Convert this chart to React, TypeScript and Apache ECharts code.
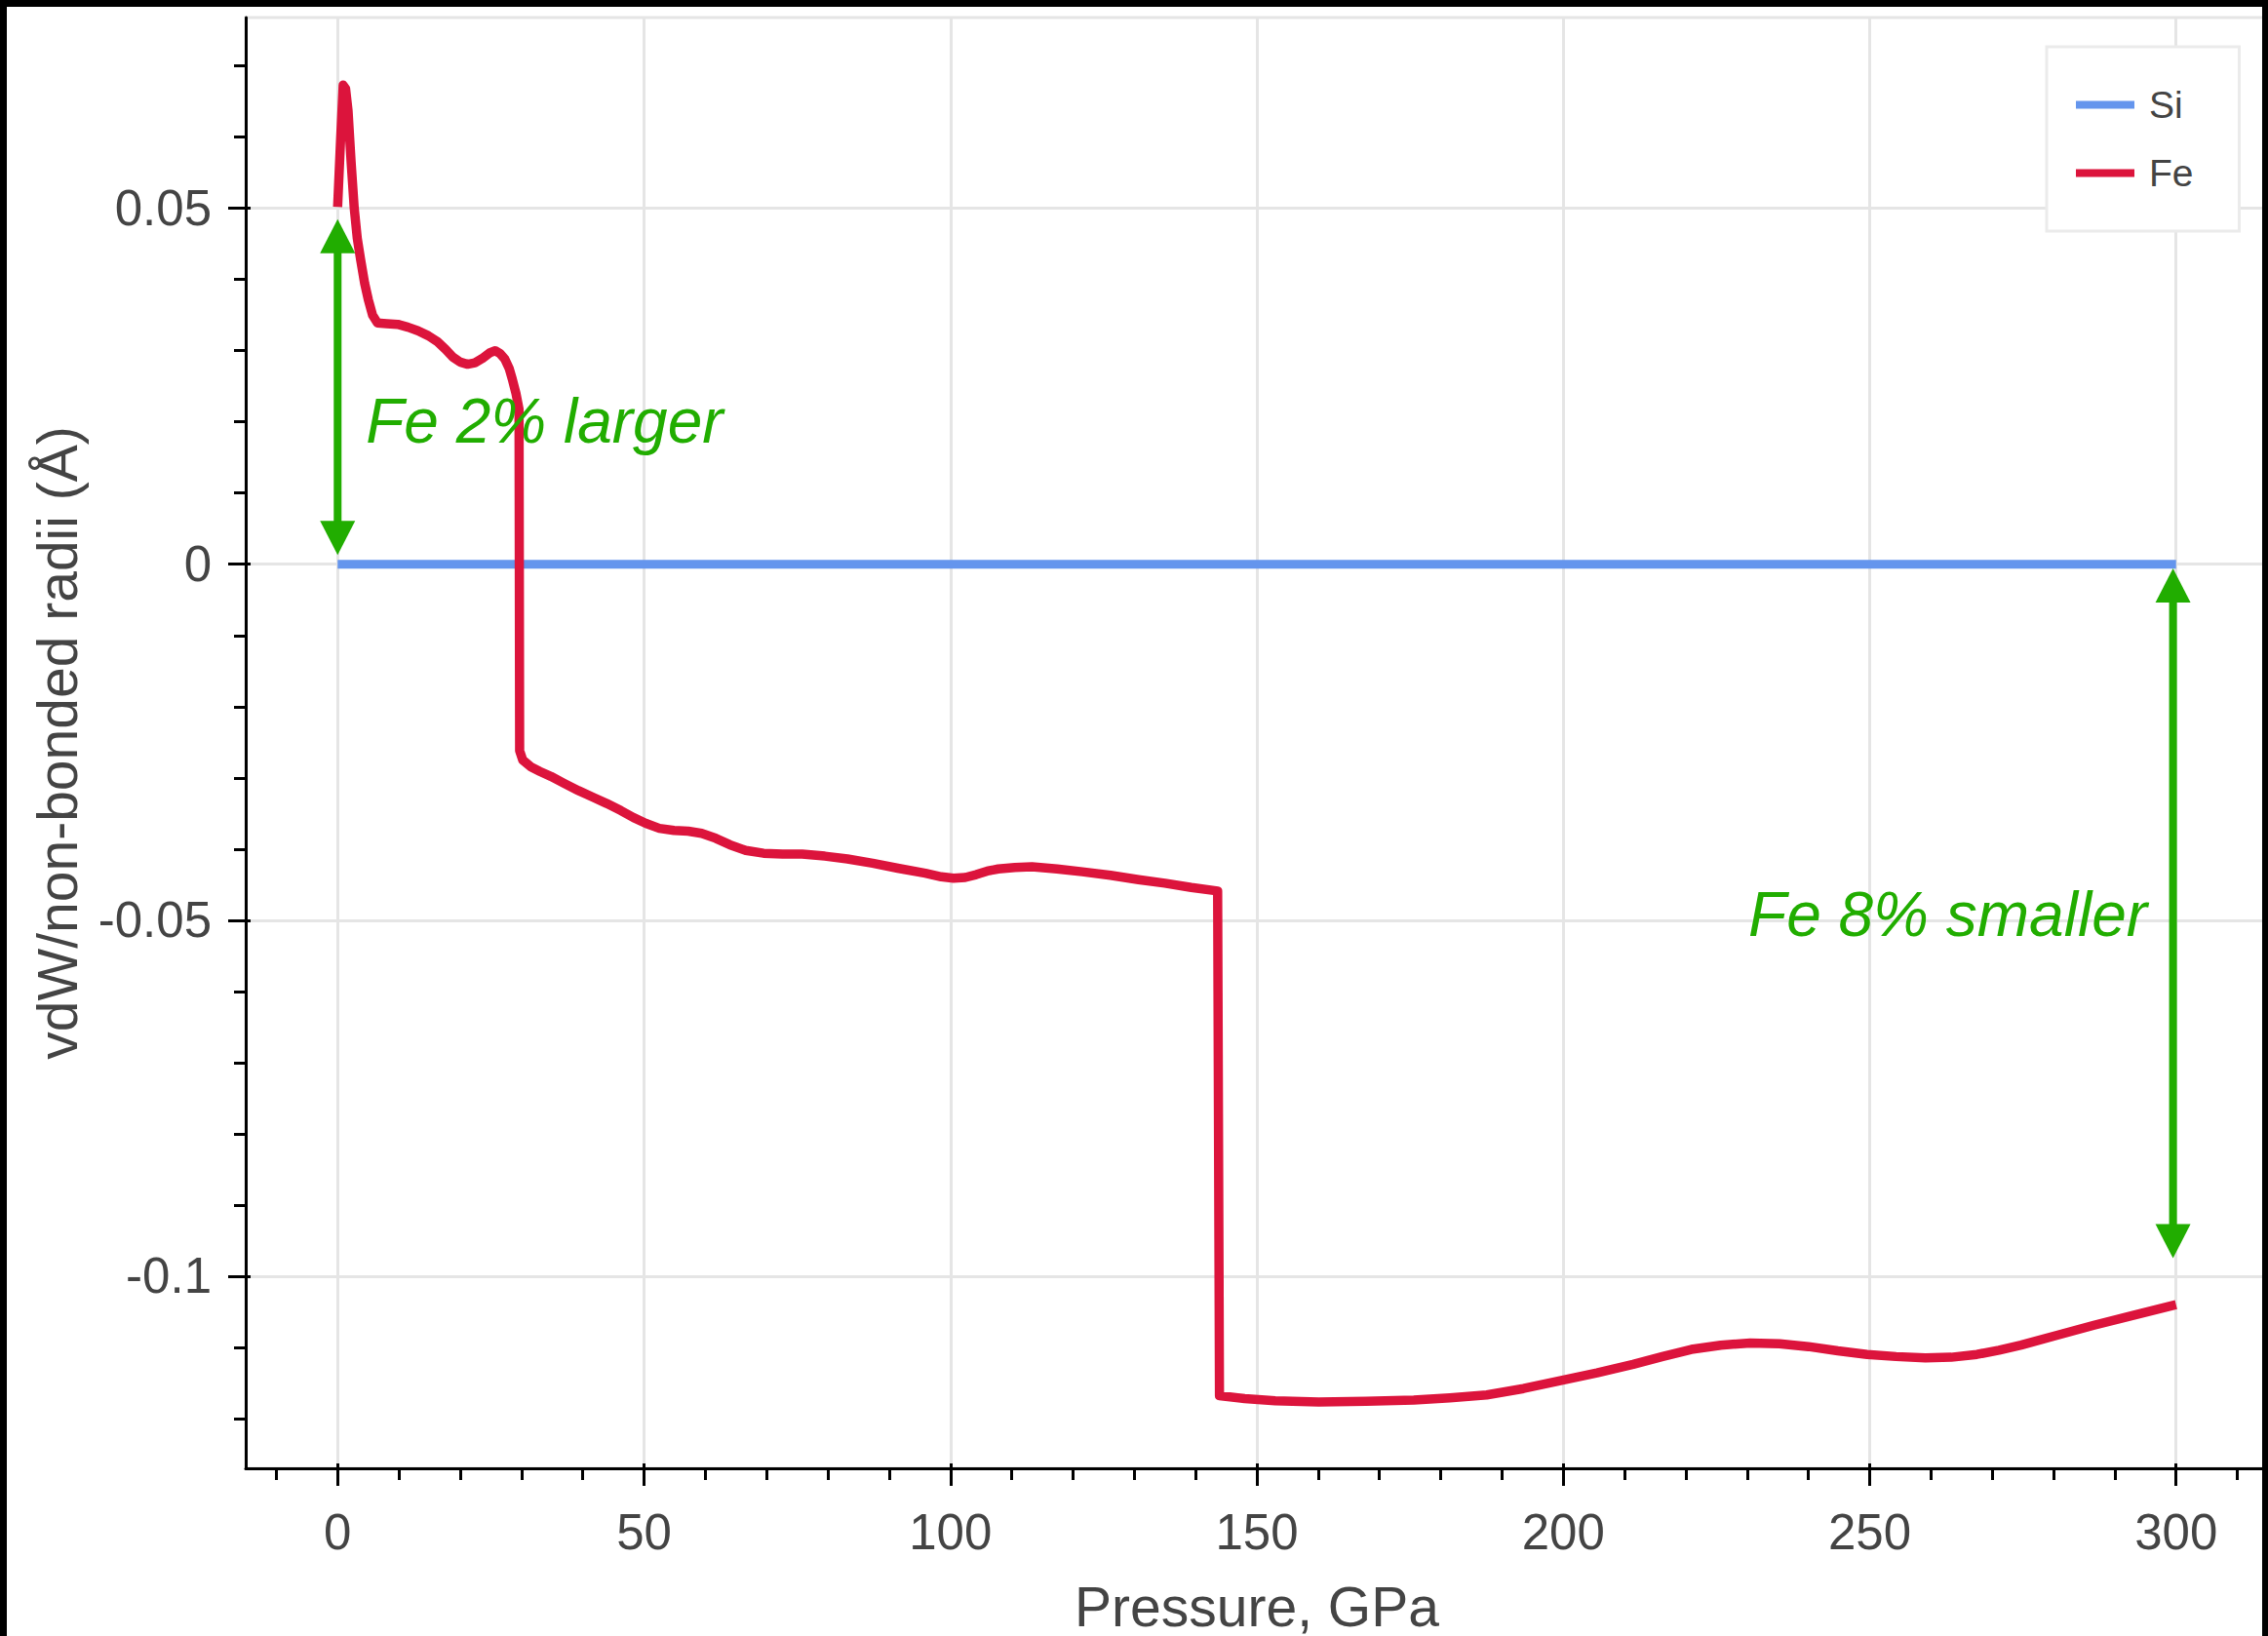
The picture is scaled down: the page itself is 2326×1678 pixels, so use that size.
import React, { useEffect, useRef } from 'react';
import * as echarts from 'echarts';

const FONT = '"Liberation Sans", Arial, Helvetica, sans-serif';
const TEXT_COLOR = '#444444';
const SI_COLOR = '#6495ED';
const FE_COLOR = '#DC143C';
const NOTE_COLOR = '#21ad00';
const GRID_COLOR = '#e5e5e5';

// Si reference: zero difference across the whole pressure range
const siPressure = [0, 300];
const siRadius = [0, 0];

// Fe radius difference vs pressure (GPa, Å)
const fePressure = [
  0, 0.5, 0.9, 1.3, 1.7, 2.2, 2.7, 3.2, 3.75, 4.4, 5.0, 5.7, 6.5, 8.0, 9.8,
  11.5, 13.1, 14.8, 16.3, 17.6, 18.8, 20.0, 21.2, 22.4, 23.6, 24.8, 25.7, 26.5,
  27.3, 28.0, 28.5, 29.1, 29.6, 29.7, 30.2, 31.6, 33.0, 34.8, 37.0, 39.3, 41.6,
  43.9, 46.2, 48.3, 50.3, 52.5, 54.9, 57.2, 59.4, 61.7, 64.0, 66.6, 69.5, 72.6,
  75.8, 79.5, 83.2, 87.3, 91.4, 95.9, 98.5, 100.5, 102.4, 104.2, 106.0, 107.8,
  110.5, 113.3, 117.4, 121.5, 126.1, 130.7, 135.0, 139.3, 143.6, 143.9, 148.0,
  153.0, 160.1, 167.8, 175.6, 181.5, 187.5, 193.5, 199.5, 205.5, 211.4, 216.2,
  220.9, 225.7, 230.5, 235.3, 240.0, 244.8, 249.6, 254.3, 259.1, 263.3, 267.5,
  271.1, 274.7, 280.6, 286.6, 293.0, 300.0,
];
const feRadius = [
  0.0502, 0.06, 0.0673, 0.0668, 0.0637, 0.0565, 0.0501, 0.0458, 0.0428, 0.0395,
  0.0372, 0.035, 0.0339, 0.0338, 0.0337, 0.0333, 0.0328, 0.0321, 0.03125, 0.0302,
  0.0291, 0.0284, 0.0281, 0.0283, 0.0289, 0.0297, 0.03, 0.0296, 0.0288, 0.0275,
  0.026, 0.024, 0.0218, -0.0262, -0.0275, -0.0285, -0.0291, -0.0298, -0.0308,
  -0.0318, -0.0327, -0.0336, -0.0346, -0.0356, -0.0364, -0.0371, -0.0374,
  -0.0375, -0.0378, -0.0385, -0.0394, -0.0402, -0.0406, -0.0407, -0.0407,
  -0.041, -0.0414, -0.042, -0.0427, -0.0434, -0.0439, -0.0441, -0.044, -0.0436,
  -0.0431, -0.0428, -0.0426, -0.0425, -0.0428, -0.0432, -0.0437, -0.0443,
  -0.0448, -0.0454, -0.0459, -0.1168, -0.1172, -0.1175, -0.1177, -0.1176,
  -0.1174, -0.1171, -0.1167, -0.1158, -0.1147, -0.1136, -0.1124, -0.1113,
  -0.1103, -0.1097, -0.1094, -0.1095, -0.1099, -0.1105, -0.111, -0.1113,
  -0.1115, -0.1114, -0.111, -0.1104, -0.1097, -0.1083, -0.1069, -0.1055, -0.104,
];

// Axis ranges and tick labels
const xRange = [-15, 315];
const yRange = [-0.127, 0.0768];
const xTicks = [0, 50, 100, 150, 200, 250, 300];
const yTicks = [-0.1, -0.05, 0, 0.05];

// Double-headed arrows: pressure, start radius, end radius
const arrowPressure = [0, 299.5];
const arrowFrom = [0.0485, -0.0006];
const arrowTo = [0.0013, -0.0975];

// Annotation texts anchored at (pressure, radius) on their baseline
const noteText = ['Fe 2% larger', 'Fe 8% smaller'];
const notePressure = [4.6, 230.2];
const noteRadius = [0.0171, -0.0522];

const NOTE_FONT_SIZE = 64;

function pairs(xs: number[], ys: number[]) {
  return xs.map((x, i) => [x, ys[i]]);
}

export default function App() {
  const ref = useRef<HTMLDivElement>(null);

  useEffect(() => {
    if (!ref.current) return;
    const chart = echarts.init(ref.current, null, { renderer: 'svg' });

    const tickLine = { color: '#000', width: 3 };

    const option: any = {
      animation: false,
      backgroundColor: '#ffffff',
      textStyle: { fontFamily: FONT },
      grid: {
        left: 252,
        top: 18,
        width: 2074,
        height: 1488,
        show: true,
        borderColor: GRID_COLOR,
        borderWidth: 3,
        backgroundColor: 'transparent',
        containLabel: false,
        outerBoundsMode: 'none',
      },
      legend: {
        orient: 'vertical',
        left: 2099,
        top: 48,
        padding: [40, 47, 40, 30],
        itemGap: 31,
        itemWidth: 60,
        itemHeight: 8,
        icon: 'rect',
        backgroundColor: '#ffffff',
        borderColor: '#ebebeb',
        borderWidth: 3,
        textStyle: {
          fontSize: 39,
          color: TEXT_COLOR,
          fontFamily: FONT,
          padding: [0, 0, 0, 10],
        },
        data: ['Si', 'Fe'],
      },
      xAxis: [
        {
          type: 'value',
          min: xRange[0],
          max: xRange[1],
          position: 'bottom',
          name: 'Pressure, GPa',
          nameLocation: 'middle',
          nameGap: 113,
          nameTextStyle: { fontSize: 57, color: TEXT_COLOR, fontFamily: FONT },
          axisLine: { show: true, onZero: false, lineStyle: tickLine },
          axisTick: { show: true, length: 18, lineStyle: tickLine, customValues: xTicks },
          minorTick: { show: true, splitNumber: 5, length: 12, lineStyle: tickLine },
          axisLabel: {
            customValues: xTicks,
            margin: 40,
            fontSize: 51,
            color: TEXT_COLOR,
            fontFamily: FONT,
            formatter: (v: number) => String(v),
          },
          splitLine: { show: true, lineStyle: { color: GRID_COLOR, width: 3 } },
        },
        {
          type: 'value',
          min: xRange[0],
          max: xRange[1],
          position: 'bottom',
          axisLine: { show: false, onZero: false },
          axisTick: { show: true, inside: true, length: 5, lineStyle: tickLine, customValues: xTicks },
          axisLabel: { show: false },
          splitLine: { show: false },
        },
      ],
      yAxis: [
        {
          type: 'value',
          min: yRange[0],
          max: yRange[1],
          position: 'left',
          name: 'vdW/non-bonded radii (Å)',
          nameLocation: 'middle',
          nameGap: 165,
          nameTextStyle: { fontSize: 57, color: TEXT_COLOR, fontFamily: FONT },
          axisLine: { show: true, onZero: false, lineStyle: tickLine },
          axisTick: { show: true, length: 18, lineStyle: tickLine, customValues: yTicks },
          minorTick: { show: true, splitNumber: 5, length: 12, lineStyle: tickLine },
          axisLabel: {
            customValues: yTicks,
            margin: 35,
            fontSize: 51,
            color: TEXT_COLOR,
            fontFamily: FONT,
            formatter: (v: number) => String(v),
          },
          splitLine: { show: true, lineStyle: { color: GRID_COLOR, width: 3 } },
        },
        {
          type: 'value',
          min: yRange[0],
          max: yRange[1],
          position: 'left',
          axisLine: { show: false, onZero: false },
          axisTick: { show: true, inside: true, length: 5, lineStyle: tickLine, customValues: yTicks },
          axisLabel: { show: false },
          splitLine: { show: false },
        },
      ],
      series: [
        {
          name: 'Si',
          type: 'line',
          data: pairs(siPressure, siRadius),
          showSymbol: false,
          symbol: 'none',
          color: SI_COLOR,
          lineStyle: { color: SI_COLOR, width: 9 },
          z: 2,
        },
        {
          name: 'Fe',
          type: 'line',
          data: pairs(fePressure, feRadius),
          showSymbol: false,
          symbol: 'none',
          color: FE_COLOR,
          lineStyle: { color: FE_COLOR, width: 9.5, join: 'round' },
          z: 3,
        },
        {
          type: 'custom',
          name: 'arrows',
          silent: true,
          z: 5,
          data: arrowPressure.map((x, i) => [x, arrowFrom[i], arrowTo[i]]),
          encode: { x: 0, y: [1, 2] },
          renderItem: (_params: any, api: any) => {
            const a = api.coord([api.value(0), api.value(1)]);
            const b = api.coord([api.value(0), api.value(2)]);
            const len = Math.hypot(b[0] - a[0], b[1] - a[1]) || 1;
            const ux = (b[0] - a[0]) / len;
            const uy = (b[1] - a[1]) / len;
            const px = -uy;
            const py = ux;
            const H = 35;
            const W = 18;
            const head = (tip: number[], dx: number, dy: number) => [
              [tip[0], tip[1]],
              [tip[0] + dx * H + px * W, tip[1] + dy * H + py * W],
              [tip[0] + dx * H - px * W, tip[1] + dy * H - py * W],
            ];
            return {
              type: 'group',
              children: [
                {
                  type: 'line',
                  shape: {
                    x1: a[0] + ux * H * 0.8,
                    y1: a[1] + uy * H * 0.8,
                    x2: b[0] - ux * H * 0.8,
                    y2: b[1] - uy * H * 0.8,
                  },
                  style: { stroke: NOTE_COLOR, lineWidth: 8 },
                },
                { type: 'polygon', shape: { points: head(a, ux, uy) }, style: { fill: NOTE_COLOR } },
                { type: 'polygon', shape: { points: head(b, -ux, -uy) }, style: { fill: NOTE_COLOR } },
              ],
            };
          },
        },
        {
          type: 'custom',
          name: 'notes',
          silent: true,
          z: 5,
          data: notePressure.map((x, i) => [x, noteRadius[i]]),
          encode: { x: 0, y: 1 },
          renderItem: (params: any, api: any) => {
            const p = api.coord([api.value(0), api.value(1)]);
            return {
              type: 'text',
              x: p[0],
              y: p[1] - 0.3465 * NOTE_FONT_SIZE,
              style: {
                text: noteText[params.dataIndex],
                fill: NOTE_COLOR,
                fontSize: NOTE_FONT_SIZE,
                fontStyle: 'italic',
                fontFamily: FONT,
                align: 'left',
                verticalAlign: 'middle',
              },
            };
          },
        },
      ],
      graphic: [
        { type: 'rect', z: 100, shape: { x: 0, y: 0, width: 2326, height: 7 }, style: { fill: '#000' } },
        { type: 'rect', z: 100, shape: { x: 0, y: 0, width: 7, height: 1678 }, style: { fill: '#000' } },
        { type: 'rect', z: 100, shape: { x: 2320, y: 0, width: 6, height: 1678 }, style: { fill: '#000' } },
      ],
    };

    chart.setOption(option);
    return () => chart.dispose();
  }, []);

  return (
    <div
      ref={ref}
      style={{ position: 'absolute', left: 0, top: 0, width: 2326, height: 1678, background: '#fff' }}
    />
  );
}
